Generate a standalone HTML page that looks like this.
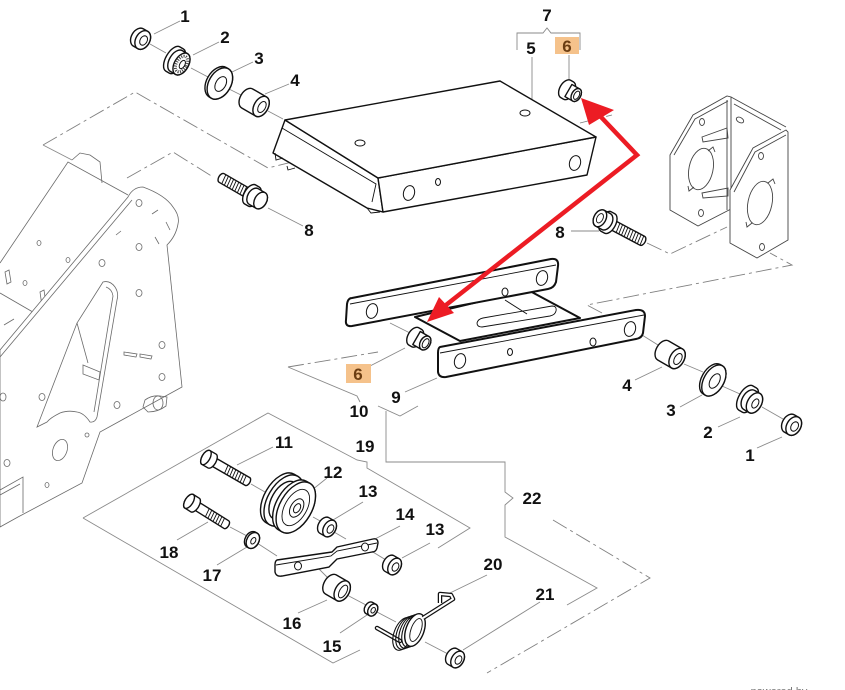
<!DOCTYPE html>
<html><head><meta charset="utf-8">
<style>
html,body{margin:0;padding:0;background:#fff;}
svg{display:block;}
.p{fill:#fff;stroke:#111;stroke-width:1.4;stroke-linejoin:round}
.a{fill:#fff;stroke:#111;stroke-width:2;stroke-linejoin:round}
.t{fill:none;stroke:#111;stroke-width:0.9}
.h{fill:#fff;stroke:#111;stroke-width:1}
.f{fill:none;stroke:#6a6a6a;stroke-width:.8}
.fh{fill:#fff;stroke:#6a6a6a;stroke-width:.8}
.l{fill:none;stroke:#8a8a8a;stroke-width:.9}
.d{fill:none;stroke:#808080;stroke-width:.9;stroke-dasharray:16 4 3 4}
.b{fill:#fff;stroke:#444;stroke-width:.9}
.bn{fill:none;stroke:#444;stroke-width:.9}
text{font-family:"Liberation Sans",Arial,sans-serif;font-weight:bold;font-size:17px;fill:#111;text-anchor:middle}
</style></head><body>
<svg width="845" height="690" viewBox="0 0 845 690" xmlns="http://www.w3.org/2000/svg">

<!-- ===== Left frame ===== -->
<g class="f">
 <path d="M0,263 L68,162 L128,195"/>
 <path d="M72,160 L80,153 L90,155 L100,162 L102,183"/>
 <path d="M0,293 L38,315"/>
 <ellipse cx="39" cy="243" rx="2" ry="2.5"/>
 <ellipse cx="68" cy="260" rx="2" ry="2.5"/>
 <ellipse cx="25" cy="283" rx="2" ry="2.5"/>
 <path d="M5,272 L9,270 L11,282 L7,284 Z"/>
 <path d="M40,292 L44,290 L46,304 L42,306 Z"/>
 <path d="M4,325 L14,319"/>
 <path class="fh" d="M0,350 L128,197 Q133,187 143,187 Q165,195 173,207 Q180,216 178,224 Q176,236 167,245 L182,387 L100,432 L82,483 L18,517 L0,527 Z"/>
 <path d="M0,357 L132,200"/>
 <path d="M0,490 L23,477 L23,513 M0,495 L20,484"/>
 <path class="fh" d="M103,282 Q110,280 115,287 Q119,293 117,300 L97,417 Q95,423 90,422 Q84,413 77,412 Q68,410 60,413 Q50,418 47,422 L37,427 L77,323 Z"/>
 <path d="M106,287 Q112,289 113,296 L94,412 M77,323 L88,363 M83,365 L100,372 L99,380 L83,374 Z"/>
 <ellipse cx="139" cy="203" rx="3" ry="3.5"/>
 <ellipse cx="139" cy="247" rx="3" ry="3.5"/>
 <ellipse cx="139" cy="293" rx="3" ry="3.5"/>
 <ellipse cx="102" cy="263" rx="3" ry="3.5"/>
 <ellipse cx="162" cy="345" rx="3" ry="3.5"/>
 <ellipse cx="162" cy="377" rx="3" ry="3.5"/>
 <ellipse cx="117" cy="405" rx="3" ry="3.5"/>
 <ellipse cx="42" cy="397" rx="3" ry="3.5"/>
 <ellipse cx="60" cy="450" rx="7" ry="11" transform="rotate(20 60 450)"/>
 <ellipse cx="87" cy="435" rx="2" ry="2"/>
 <ellipse cx="47" cy="485" rx="2" ry="2.5"/>
 <ellipse cx="7" cy="463" rx="3" ry="3.5"/>
 <ellipse cx="3" cy="397" rx="3" ry="4"/>
 <path d="M152,214 L158,210 M166,222 L170,230 M155,237 L159,244 M116,235 L121,231 M124,352 L137,354 L136,357 L124,355 Z M140,354 L152,356 L151,359 L140,357 Z"/>
 <path d="M143,407 L145,400 Q152,395 160,396 L167,397 L166,406 Q158,412 148,412 Z"/>
 <ellipse cx="158" cy="403" rx="5" ry="7"/>
</g>

<!-- ===== Dashed / guide lines ===== -->
<path class="d" d="M43,145 L135,92 L268,168 L300,160"/>
<path class="l" d="M43,145 L72,160"/>
<path class="d" d="M127,178 L173,152 L213,177"/>
<path class="d" d="M580,123 L612,115"/>
<path class="d" d="M602,313 L587,305 L792,265 L770,253"/>
<path class="d" d="M647,243 L670,254 L727,227"/>
<path class="d" d="M288,367 L378,352"/>
<path class="d" d="M553,520 L650,578 L487,673"/>
<path class="l" d="M83,518 L268,413 L357,460 L367,462 L367,468 L470,528 L438,548"/>
<path class="l" d="M83,518 L333,663 L360,650"/>
<path class="l" d="M288,367 L357,396 L360,402"/>
<path class="l" d="M378,406 L400,416 L418,406"/>
<path class="l" d="M386,411 L386,462 L505,462 L505,492 L513,498 L505,505 L505,537 L597,588 L567,605"/>
<path class="l" d="M517,50 V33 H543 L547,28 L551,33 H580 V50"/>

<!-- axis lines -->
<g class="l">
 <path d="M150,44 L166,53 M191,68 L208,77 M229,89 L243,96 M268,111 L283,119"/>
 <path d="M642,335 L658,345 M684,364 L703,372 M722,386 L740,394 M762,407 L783,419"/>
 <path d="M390,323 L410,333"/>
 <path d="M251,484 L265,492 M313,517 L322,522 M334,532 L346,539 M368,549 L386,560"/>
 <path d="M230,527 L247,536 M257,543 L277,556 M318,568 L328,578 M347,595 L366,605 M377,612 L396,622 M425,642 L448,654"/>
</g>

<!-- leaders -->
<g class="l">
 <path d="M180,21 L154,34 M219,42 L193,55 M253,62 L232,72 M289,84 L265,94 M303,226 L268,208"/>
 <path d="M532,57 L532,99 M569,55 L569,82 M571,231 L599,231"/>
 <path d="M370,366 L405,348 M405,392 L437,378"/>
 <path d="M635,380 L662,367 M680,407 L702,395 M718,427 L740,417 M757,448 L782,437"/>
 <path d="M273,447 L237,465 M327,478 L312,490 M363,502 L333,520 M177,540 L208,522 M217,565 L247,547"/>
 <path d="M298,613 L327,600 M340,633 L367,615 M400,526 L373,540 M430,543 L402,558 M487,575 L450,593 M540,602 L463,650"/>
</g>

<!-- ===== Right bracket ===== -->
<g>
 <path class="b" d="M670,155 L693,115 L727,96 L731,97 L731,209 L698,226 L670,210 Z"/>
 <path class="bn" d="M727,100 L727,210 M674,155 L695,119 L728,101"/>
 <path class="bn" d="M731,97 L786,127 M734,104 L781,130"/>
 <path class="bn" d="M702,137 L727,128 L728,138 L703,142 Z M702,193 L728,188 L728,196 L703,198 Z"/>
 <ellipse class="bn" cx="701" cy="169" rx="12" ry="21" transform="rotate(12 701 169)"/>
 <path class="bn" d="M708,151 L713,147 L715,152 M694,187 L689,191 L688,186"/>
 <ellipse class="bn" cx="702" cy="122" rx="2.5" ry="3.5"/>
 <ellipse class="bn" cx="701" cy="213" rx="2.5" ry="3.5"/>
 <ellipse class="bn" cx="740" cy="120" rx="4" ry="2.5" transform="rotate(30 740 120)"/>
 <path class="b" d="M730,190 L753,148 L786,130 L788,132 L788,240 L757,258 L730,243 Z"/>
 <path class="bn" d="M734,192 L755,152 L786,135"/>
 <ellipse class="bn" cx="760" cy="203" rx="12" ry="22" transform="rotate(12 760 203)"/>
 <path class="bn" d="M768,183 L773,179 L775,184 M752,223 L747,227 L746,222"/>
 <ellipse class="bn" cx="761" cy="156" rx="2.5" ry="3.5"/>
 <ellipse class="bn" cx="762" cy="247" rx="2.5" ry="3.5"/>
</g>

<!-- ===== Plate 5 ===== -->
<g>
 <path class="p" d="M285,120 L378,178 L383,212 L367,208 L273,153 Z"/>
 <path class="p" d="M378,178 L596,137 L587,175 L383,212 Z"/>
 <path class="p" d="M285,120 L500,81 L596,137 L378,178 Z"/>
 <path class="t" d="M282,128 L376,184 L372,202"/>
 <path class="t" d="M275,153 L276,160 L283,158 M287,166 L288,170 L295,168"/>
 <path class="t" d="M367,208 L371,213 L380,212"/>
 <ellipse class="h" cx="360" cy="143" rx="5" ry="3"/>
 <ellipse class="h" cx="525" cy="113" rx="5" ry="3"/>
 <ellipse class="h" cx="409" cy="193" rx="5.5" ry="7.5" transform="rotate(15 409 193)"/>
 <ellipse class="h" cx="575" cy="163" rx="5.5" ry="7.5" transform="rotate(15 575 163)"/>
 <ellipse class="h" cx="438" cy="182" rx="2.5" ry="3.5"/>
</g>

<!-- ===== Top hardware 1-4 ===== -->
<g transform="translate(141,39) rotate(30)">
 <path class="p" d="M-3,-10 H2 A7,10 0 0 1 2,10 H-3 A7,10 0 0 1 -3,-10Z"/>
 <ellipse class="p" cx="2" cy="0" rx="7" ry="10"/>
 <ellipse class="h" cx="3" cy="0" rx="3.5" ry="5"/>
</g>
<g transform="translate(178,62) rotate(30)">
 <path class="p" d="M-6,-14 H-2 A7,14 0 0 1 -2,14 H-6 A7,14 0 0 1 -6,-14Z"/>
 <path class="p" d="M-2,-12 H4 A7,12 0 0 1 4,12 H-2 A7,12 0 0 1 -2,-12Z"/>
 <ellipse class="p" cx="4" cy="0" rx="7" ry="12"/>
 <ellipse cx="4" cy="0" rx="5" ry="8.5" fill="none" stroke="#444" stroke-width="3" stroke-dasharray="1 1.3"/>
 <ellipse class="h" cx="5" cy="0" rx="2.5" ry="4.5"/>
</g>
<g transform="translate(219,83) rotate(30)">
 <path class="p" d="M-1.5,-17 H1 A11,17 0 0 1 1,17 H-1.5 A11,17 0 0 1 -1.5,-17Z"/>
 <ellipse class="p" cx="1" cy="0" rx="11" ry="17"/>
 <ellipse class="h" cx="2" cy="0" rx="5" ry="8"/>
</g>
<g transform="translate(255,103) rotate(30)">
 <path class="p" d="M-9,-11 H7 A7,11 0 0 1 7,11 H-9 A7,11 0 0 1 -9,-11Z"/>
 <ellipse class="p" cx="7" cy="0" rx="7" ry="11"/>
 <ellipse class="h" cx="8" cy="0" rx="3.5" ry="6"/>
</g>

<!-- Bolt 8 left -->
<g transform="translate(258,199) rotate(30)">
 <path class="p" d="M-42,-5 H-8 V5 H-42 A3,5 0 0 1 -42,-5Z"/>
 <path class="t" d="M-40,-5 l1,10 M-37,-5 l1,10 M-34,-5 l1,10 M-31,-5 l1,10 M-28,-5 l1,10 M-25,-5 l1,10 M-22,-5 l1,10 M-19,-5 l1,10 M-16,-5 l1,10"/>
 <path class="p" d="M-9,-11 H-5 A6,11 0 0 1 -5,11 H-9 A6,11 0 0 1 -9,-11Z"/>
 <path class="p" d="M-5,-9 H3 A6,9 0 0 1 3,9 H-5 A6,9 0 0 1 -5,-9Z"/>
 <ellipse class="p" cx="3" cy="0" rx="6" ry="9"/>
</g>

<!-- Bolt 8 right -->
<g transform="translate(607,222) rotate(28)">
 <path class="p" d="M3,-5 H40 A3,5 0 0 1 40,5 H3 Z"/>
 <path class="t" d="M12,-5 l1,10 M15,-5 l1,10 M18,-5 l1,10 M21,-5 l1,10 M24,-5 l1,10 M27,-5 l1,10 M30,-5 l1,10 M33,-5 l1,10 M36,-5 l1,10 M39,-5 l1,10"/>
 <path class="p" d="M-1,-11 H3 A6,11 0 0 1 3,11 H-1 A6,11 0 0 1 -1,-11Z"/>
 <path class="p" d="M-8,-9 H-1 A6,9 0 0 1 -1,9 H-8 A6,9 0 0 1 -8,-9Z"/>
 <ellipse class="p" cx="-8" cy="0" rx="6" ry="9"/>
 <ellipse class="t" cx="-8" cy="0" rx="3" ry="5"/>
</g>

<!-- Upper 6 -->
<g transform="translate(571,92) rotate(30)">
 <path class="p" d="M-6,-10 H-3 A6,10 0 0 1 -3,10 H-6 A6,10 0 0 1 -6,-10Z"/>
 <path class="p" d="M-3,-7 H6 A4.5,7 0 0 1 6,7 H-3 Z"/>
 <ellipse class="p" cx="6" cy="0" rx="4.5" ry="7"/>
 <ellipse class="h" cx="6.5" cy="0" rx="2.5" ry="4.5"/>
</g>

<!-- ===== Arm 9 ===== -->
<g>
 <!-- cross plate (under bars) -->
 <path class="a" d="M415,317 L528,290 L580,318 L460,341 Z"/>
 <path class="t" d="M505,300 L527,314"/>
 <path class="t" d="M483,318 L552,306 Q557,306 556,311 Q555,315 550,316 L482,327 Q477,327 477,323 Q478,319 483,318 Z"/>
 <!-- back bar -->
 <path class="a" d="M352,298 L551,259 Q559,258 558,266 L556,282 Q554,288 548,289 L352,326 Q345,327 346,320 L347,304 Q348,298 352,298 Z"/>
 <path class="t" d="M350,304 L556,265"/>
 <ellipse class="h" cx="372" cy="311" rx="5.5" ry="7.5" transform="rotate(15 372 311)"/>
 <ellipse class="h" cx="542" cy="278" rx="5.5" ry="7.5" transform="rotate(15 542 278)"/>
 <ellipse class="h" cx="505" cy="292" rx="3" ry="4"/>
 <!-- front bar -->
 <path class="a" d="M440,347 L636,310 Q645,309 645,316 L643,333 Q642,338 636,339 L446,377 Q439,378 438,372 L438,353 Q438,348 440,347 Z"/>
 <path class="t" d="M440,353 L644,315"/>
 <ellipse class="h" cx="460" cy="361" rx="5.5" ry="7.5" transform="rotate(15 460 361)"/>
 <ellipse class="h" cx="630" cy="329" rx="5.5" ry="7.5" transform="rotate(15 630 329)"/>
 <ellipse class="h" cx="510" cy="352" rx="2.5" ry="3.5"/>
 <ellipse class="h" cx="593" cy="342" rx="3" ry="4"/>
</g>

<!-- Lower 6 -->
<g transform="translate(420,340) rotate(30)">
 <path class="p" d="M-7,-10 H-4 A6,10 0 0 1 -4,10 H-7 A6,10 0 0 1 -7,-10Z"/>
 <path class="p" d="M-4,-7.5 H6 A5,7.5 0 0 1 6,7.5 H-4 Z"/>
 <ellipse class="p" cx="6" cy="0" rx="5" ry="7.5"/>
 <ellipse class="h" cx="6.5" cy="0" rx="2.8" ry="5"/>
</g>

<!-- ===== Right hardware ===== -->
<g transform="translate(671,355) rotate(30)">
 <path class="p" d="M-9,-11 H7 A7,11 0 0 1 7,11 H-9 A7,11 0 0 1 -9,-11Z"/>
 <ellipse class="p" cx="7" cy="0" rx="7" ry="11"/>
 <ellipse class="h" cx="8" cy="0" rx="3.5" ry="6"/>
</g>
<g transform="translate(713,380) rotate(30)">
 <path class="p" d="M-1.5,-17 H1 A10,17 0 0 1 1,17 H-1.5 A10,17 0 0 1 -1.5,-17Z"/>
 <ellipse class="p" cx="1" cy="0" rx="10" ry="17"/>
 <ellipse class="h" cx="2" cy="0" rx="4.5" ry="8"/>
</g>
<g transform="translate(751,401) rotate(30)">
 <path class="p" d="M-6,-14 H-2 A7,14 0 0 1 -2,14 H-6 A7,14 0 0 1 -6,-14Z"/>
 <path class="p" d="M-2,-11 H4 A7,11 0 0 1 4,11 H-2 A7,11 0 0 1 -2,-11Z"/>
 <ellipse class="p" cx="4" cy="0" rx="7" ry="11"/>
 <ellipse class="h" cx="5" cy="0" rx="3" ry="5"/>
</g>
<g transform="translate(792,425) rotate(30)">
 <path class="p" d="M-3,-10 H2 A7,10 0 0 1 2,10 H-3 A7,10 0 0 1 -3,-10Z"/>
 <ellipse class="p" cx="2" cy="0" rx="7" ry="10"/>
 <ellipse class="h" cx="3" cy="0" rx="3.5" ry="5"/>
</g>

<!-- ===== Lower assembly ===== -->
<g transform="translate(212,461) rotate(30)">
 <path class="p" d="M0,-4.5 H41 A2.5,4.5 0 0 1 41,4.5 H0 Z"/>
 <path class="t" d="M16,-4.5 l1,9 M19,-4.5 l1,9 M22,-4.5 l1,9 M25,-4.5 l1,9 M28,-4.5 l1,9 M31,-4.5 l1,9 M34,-4.5 l1,9 M37,-4.5 l1,9"/>
 <path class="p" d="M-7,-8 H0 A4,8 0 0 1 0,8 H-7 A4,8 0 0 1 -7,-8Z"/>
 <ellipse class="p" cx="-7" cy="0" rx="4" ry="8"/>
</g>
<g transform="translate(195,505) rotate(32)">
 <path class="p" d="M0,-4.5 H37 A2.5,4.5 0 0 1 37,4.5 H0 Z"/>
 <path class="t" d="M14,-4.5 l1,9 M17,-4.5 l1,9 M20,-4.5 l1,9 M23,-4.5 l1,9 M26,-4.5 l1,9 M29,-4.5 l1,9 M32,-4.5 l1,9"/>
 <path class="p" d="M-7,-8 H0 A4,8 0 0 1 0,8 H-7 A4,8 0 0 1 -7,-8Z"/>
 <ellipse class="p" cx="-7" cy="0" rx="4" ry="8"/>
</g>
<g transform="translate(288,503) rotate(30)">
 <path class="p" d="M-9,-28 H-5 A16,28 0 0 1 -5,28 H-9 A16,28 0 0 1 -9,-28Z"/>
 <ellipse class="p" cx="-5" cy="0" rx="16" ry="28"/>
 <path class="p" d="M-5,-21 H5 A12,21 0 0 1 5,21 H-5 A12,21 0 0 1 -5,-21Z"/>
 <path class="p" d="M5,-28 H9 A16,28 0 0 1 9,28 H5 A16,28 0 0 1 5,-28Z"/>
 <ellipse class="p" cx="9" cy="0" rx="16" ry="28"/>
 <ellipse class="t" cx="9" cy="0" rx="11" ry="20"/>
 <ellipse class="h" cx="10" cy="0" rx="6" ry="10"/>
 <ellipse class="h" cx="10.5" cy="0" rx="3" ry="5"/>
</g>
<g transform="translate(327,527) rotate(30)">
 <path class="p" d="M-3,-9 H3 A6,9 0 0 1 3,9 H-3 A6,9 0 0 1 -3,-9Z"/>
 <ellipse class="p" cx="3" cy="0" rx="6" ry="9"/>
 <ellipse class="h" cx="4" cy="0" rx="3" ry="4.5"/>
</g>
<g transform="translate(252,540) rotate(30)">
 <path class="p" d="M-1,-8.5 H1 A6,8.5 0 0 1 1,8.5 H-1 A6,8.5 0 0 1 -1,-8.5Z"/>
 <ellipse class="p" cx="1" cy="0" rx="6" ry="8.5"/>
 <ellipse class="h" cx="1.5" cy="0" rx="2.2" ry="3.5"/>
</g>
<g>
 <path class="p" d="M277,560 L332,552 L337,547 L373,539 Q378,538 378,543 L377,548 Q376,552 372,552 L337,559 L329,567 L282,576 Q276,577 275,572 L275,565 Q275,561 277,560 Z"/>
 <path class="t" d="M276,565 L331,556 L337,551 L377,543"/>
 <ellipse class="h" cx="298" cy="566" rx="3.5" ry="4"/>
 <ellipse class="h" cx="365" cy="547" rx="3.5" ry="4"/>
</g>
<g transform="translate(392,565) rotate(30)">
 <path class="p" d="M-3,-9 H3 A6,9 0 0 1 3,9 H-3 A6,9 0 0 1 -3,-9Z"/>
 <ellipse class="p" cx="3" cy="0" rx="6" ry="9"/>
 <ellipse class="h" cx="4" cy="0" rx="3" ry="4.5"/>
</g>
<g transform="translate(337,588) rotate(30)">
 <path class="p" d="M-7,-11 H6 A7,11 0 0 1 6,11 H-7 A7,11 0 0 1 -7,-11Z"/>
 <ellipse class="p" cx="6" cy="0" rx="7" ry="11"/>
 <ellipse class="h" cx="7" cy="0" rx="3.5" ry="7"/>
</g>
<g transform="translate(371,609) rotate(30)">
 <path class="p" d="M-2,-6.5 H2 A4.5,6.5 0 0 1 2,6.5 H-2 A4.5,6.5 0 0 1 -2,-6.5Z"/>
 <ellipse class="p" cx="2" cy="0" rx="4.5" ry="6.5"/>
 <ellipse class="h" cx="2.5" cy="0" rx="2" ry="3"/>
</g>
<g>
 <path d="M377,628 L400,641" stroke="#111" stroke-width="4.5" fill="none" stroke-linecap="round"/>
 <path d="M377,628 L400,641" stroke="#fff" stroke-width="2" fill="none" stroke-linecap="round"/>
 <g fill="none" stroke="#111" stroke-width="1.1">
  <ellipse cx="403" cy="634" rx="9" ry="17" transform="rotate(20 403 634)"/>
  <ellipse cx="406" cy="633" rx="9" ry="17" transform="rotate(20 406 633)"/>
  <ellipse cx="409" cy="632" rx="9" ry="17" transform="rotate(20 409 632)"/>
  <ellipse cx="412" cy="631" rx="9" ry="17" transform="rotate(20 412 631)"/>
 </g>
 <ellipse class="p" cx="415" cy="630" rx="9" ry="17" transform="rotate(20 415 630)"/>
 <ellipse class="t" cx="416" cy="630" rx="5" ry="12" transform="rotate(20 416 630)"/>
 <path d="M423,618 L453,599 L451,595 L440,594 L440,603" stroke="#111" stroke-width="4.5" fill="none" stroke-linejoin="round"/>
 <path d="M423,618 L453,599 L451,595 L440,594 L440,603" stroke="#fff" stroke-width="2" fill="none" stroke-linejoin="round"/>
</g>
<g transform="translate(455,658) rotate(30)">
 <path class="p" d="M-3,-9 H3 A6,9 0 0 1 3,9 H-3 A6,9 0 0 1 -3,-9Z"/>
 <ellipse class="p" cx="3" cy="0" rx="6" ry="9"/>
 <ellipse class="h" cx="4" cy="0" rx="3" ry="4.5"/>
</g>

<!-- ===== Red arrows ===== -->
<path d="M601,117 L637,155 L446,305" stroke="#ec1c24" stroke-width="4.5" fill="none" stroke-linejoin="miter"/>
<polygon points="581,98 589,125 614,110" fill="#ec1c24"/>
<polygon points="427,322 439,297 454,313" fill="#ec1c24"/>

<!-- ===== Label boxes ===== -->
<rect x="555" y="37" width="24" height="17" fill="#f5c28b"/>
<rect x="346" y="364" width="25" height="19" fill="#f5c28b"/>

<!-- ===== Labels ===== -->
<text x="185" y="22">1</text>
<text x="225" y="43">2</text>
<text x="259" y="64">3</text>
<text x="295" y="86">4</text>
<text x="547" y="21">7</text>
<text x="531" y="54">5</text>
<text x="567" y="52" style="fill:#6b3d12">6</text>
<text x="309" y="236">8</text>
<text x="560" y="238">8</text>
<text x="358" y="380" style="fill:#6b3d12">6</text>
<text x="359" y="417">10</text>
<text x="396" y="403">9</text>
<text x="627" y="391">4</text>
<text x="671" y="416">3</text>
<text x="708" y="438">2</text>
<text x="750" y="461">1</text>
<text x="284" y="448">11</text>
<text x="365" y="452">19</text>
<text x="333" y="478">12</text>
<text x="368" y="497">13</text>
<text x="532" y="504">22</text>
<text x="405" y="520">14</text>
<text x="435" y="535">13</text>
<text x="169" y="558">18</text>
<text x="212" y="581">17</text>
<text x="493" y="570">20</text>
<text x="545" y="600">21</text>
<text x="292" y="629">16</text>
<text x="332" y="652">15</text>
<text x="779" y="695" style="font-weight:normal;font-size:11px;fill:#777">powered by</text>
</svg>
</body></html>
